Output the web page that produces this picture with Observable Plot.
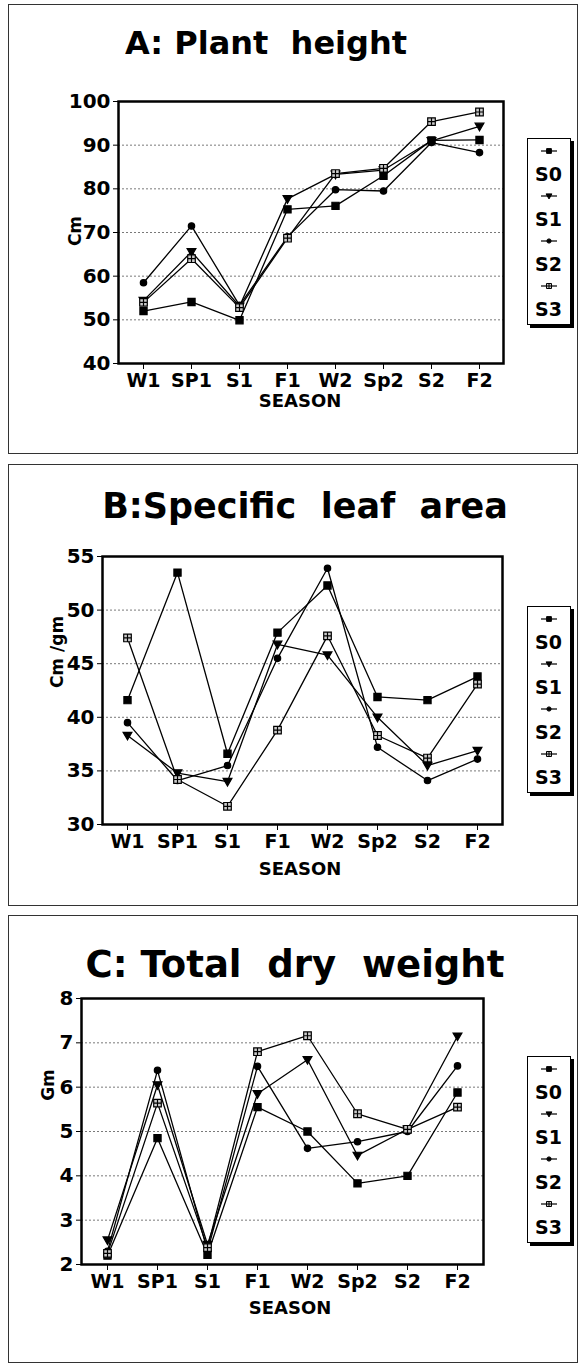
<!DOCTYPE html>
<html><head><meta charset="utf-8">
<script src="https://cdn.jsdelivr.net/npm/d3@7"></script>
<script src="https://cdn.jsdelivr.net/npm/@observablehq/plot@0.6"></script>
<style>
body{margin:0;background:#fff;}
#page{position:relative;width:580px;height:1366px;overflow:hidden;font-family:"DejaVu Sans",sans-serif;font-weight:bold;color:#000;}
.frame{position:absolute;border:1.5px solid #333;box-sizing:border-box;}
.txt{position:absolute;white-space:pre;transform:translate(-50%,-50%);line-height:1;}
.ylab{font-size:17px;}
.xlab{font-size:18px;}
.legend{position:absolute;border:1.5px solid #000;box-shadow:3px 3px 0 #000;background:#fff;box-sizing:border-box;}
.plot{position:absolute;left:0;}
</style></head>
<body><div id="page"></div>
<script>
const seasons = ["W1","SP1","S1","F1","W2","Sp2","S2","F2"];
const seriesNames = ["S0","S1","S2","S3"];

// A: Plant height (cm)
const heightS0 = [52.0, 54.1, 49.9, 75.3, 76.1, 83.0, 91.1, 91.2];
const heightS1 = [54.4, 65.6, 53.1, 77.7, 83.3, 84.3, 91.0, 94.3];
const heightS2 = [58.5, 71.5, 53.3, 69.0, 79.8, 79.5, 90.6, 88.3];
const heightS3 = [54.0, 64.0, 52.8, 68.7, 83.5, 84.7, 95.4, 97.6];
const heightTicks = [40, 50, 60, 70, 80, 90, 100];

// B: Specific leaf area (cm/gm)
const slaS0 = [41.6, 53.5, 36.6, 47.9, 52.3, 41.9, 41.6, 43.8];
const slaS1 = [38.3, 34.8, 34.0, 46.8, 45.8, 40.0, 35.5, 36.9];
const slaS2 = [39.5, 34.1, 35.5, 45.5, 53.9, 37.2, 34.1, 36.1];
const slaS3 = [47.4, 34.2, 31.7, 38.8, 47.6, 38.3, 36.2, 43.1];
const slaTicks = [30, 35, 40, 45, 50, 55];

// C: Total dry weight (gm)
const dwS0 = [2.20, 4.85, 2.22, 5.55, 5.00, 3.83, 4.00, 5.88];
const dwS1 = [2.55, 6.05, 2.45, 5.85, 6.62, 4.46, 5.05, 7.15];
const dwS2 = [2.30, 6.38, 2.30, 6.47, 4.62, 4.77, 5.00, 6.48];
const dwS3 = [2.25, 5.64, 2.38, 6.80, 7.16, 5.40, 5.05, 5.55];
const dwTicks = [2, 3, 4, 5, 6, 7, 8];

const symSquare = {draw(ctx, size){const r=Math.sqrt(size/Math.PI)*0.9; ctx.rect(-r,-r,2*r,2*r);}};
const symTriDown = {draw(ctx, size){const r=Math.sqrt(size/Math.PI); ctx.moveTo(-r*1.1,-r*0.8); ctx.lineTo(r*1.1,-r*0.8); ctx.lineTo(0,r*1.1); ctx.closePath();}};
const symCircle = {draw(ctx, size){const r=Math.sqrt(size/Math.PI)*0.8; ctx.moveTo(r,0); ctx.arc(0,0,r,0,2*Math.PI);}};
const symCrossSq = {draw(ctx, size){const r=Math.sqrt(size/Math.PI)*0.95; ctx.moveTo(-r,-r); ctx.lineTo(r,-r); ctx.lineTo(r,r); ctx.lineTo(-r,r); ctx.closePath(); ctx.moveTo(-r,0); ctx.lineTo(r,0); ctx.moveTo(0,-r); ctx.lineTo(0,r);}};
const symbols = [symSquare, symTriDown, symCircle, symCrossSq];
const fills = ["#000", "#000", "#000", "#ccc"];

function rows(arrs){
  const out = [];
  arrs.forEach((a, i) => a.forEach((v, j) => out.push({season: seasons[j], series: seriesNames[i], value: v})));
  return out;
}

const panels = [
  {top:0, height:455, mt:101, mb:92, ml:118, mr:77, ticks:heightTicks, data:rows([heightS0,heightS1,heightS2,heightS3]),
   frame:[8,4,570,450], title:"A: Plant  height", titleSize:32, titleXY:[266,43], ylab:"Cm", ylabXY:[75,231], xlabXY:[300,401], legend:[527,138]},
  {top:460, height:445, mt:96, mb:81, ml:102, mr:78, ticks:slaTicks, data:rows([slaS0,slaS1,slaS2,slaS3]),
   frame:[8,464,570,442], title:"B:Specific  leaf  area", titleSize:35, titleXY:[305,506], ylab:"Cm /gm", ylabXY:[57,652], xlabXY:[300,869], legend:[527,606]},
  {top:910, height:456, mt:88, mb:102, ml:81, mr:97, ticks:dwTicks, data:rows([dwS0,dwS1,dwS2,dwS3]),
   frame:[8,915,570,448], title:"C: Total  dry  weight", titleSize:37, titleXY:[295,964], ylab:"Gm", ylabXY:[48,1085], xlabXY:[290,1308], legend:[527,1056]}
];

const page = document.getElementById("page");

function addText(cls, text, x, y, rot, size){
  const d = document.createElement("div");
  d.className = "txt " + cls;
  d.textContent = text;
  d.style.left = x + "px"; d.style.top = y + "px";
  if (size) d.style.fontSize = size + "px";
  if (rot) d.style.transform = "translate(-50%,-50%) rotate(-90deg)";
  page.appendChild(d);
}

panels.forEach(p => {
  const fr = document.createElement("div");
  fr.className = "frame";
  fr.style.left = p.frame[0]+"px"; fr.style.top = p.frame[1]+"px";
  fr.style.width = p.frame[2]+"px"; fr.style.height = p.frame[3]+"px";
  page.appendChild(fr);

  const yMin = p.ticks[0], yMax = p.ticks[p.ticks.length-1];
  const marks = [
    Plot.gridY(p.ticks.slice(1, -1), {stroke:"#444", strokeOpacity:0.9, strokeWidth:0.8, strokeDasharray:"2,2"}),
    Plot.axisY(p.ticks, {tickSize:5, tickPadding:3, label:null, fontSize:20, fontWeight:"bold"}),
    Plot.axisX({tickSize:6, tickPadding:4, label:null, fontSize:19, fontWeight:"bold"}),
    Plot.line(p.data, {x:"season", y:"value", z:"series", stroke:"#000", strokeWidth:1.3})
  ];
  seriesNames.forEach((s, i) => {
    marks.push(Plot.dot(p.data.filter(d => d.series === s), {x:"season", y:"value", symbol:symbols[i], r:4, fill:fills[i], stroke:"#000", strokeWidth:1.2}));
  });
  marks.push(Plot.frame({stroke:"#000", strokeWidth:2.5}));

  const svg = Plot.plot({
    width:580, height:p.height,
    marginTop:p.mt, marginBottom:p.mb, marginLeft:p.ml, marginRight:p.mr,
    style:{fontFamily:"DejaVu Sans, sans-serif", fontWeight:"bold", color:"#000", background:"transparent", overflow:"visible"},
    x:{type:"point", domain:seasons, padding:0.5},
    y:{domain:[yMin, yMax]},
    marks
  });
  const wrap = document.createElement("div");
  wrap.className = "plot";
  wrap.style.top = p.top + "px";
  wrap.appendChild(svg);
  page.appendChild(wrap);

  addText("title", p.title, p.titleXY[0], p.titleXY[1], false, p.titleSize);
  addText("ylab", p.ylab, p.ylabXY[0], p.ylabXY[1], true);
  addText("xlab", "SEASON", p.xlabXY[0], p.xlabXY[1]);

  // legend
  const lg = document.createElement("div");
  lg.className = "legend";
  lg.style.left = p.legend[0]+"px"; lg.style.top = p.legend[1]+"px";
  lg.style.width = "44px"; lg.style.height = "187px";
  page.appendChild(lg);
  seriesNames.forEach((s, i) => {
    const my = 12 + i*45;
    const ls = d3.create("svg").attr("width", 40).attr("height", 10)
      .style("position","absolute").style("left","1px").style("top",(my-5)+"px");
    ls.append("line").attr("x1",12).attr("x2",28).attr("y1",5).attr("y2",5).attr("stroke","#000").attr("stroke-width",1.2);
    ls.append("path").attr("transform","translate(20,5)").attr("d", d3.symbol(symbols[i], Math.PI*7)())
      .attr("fill", fills[i]).attr("stroke","#000").attr("stroke-width",1);
    lg.appendChild(ls.node());
    const t = document.createElement("div");
    t.textContent = s;
    t.style.position = "absolute"; t.style.left = "0"; t.style.width = "41px"; t.style.textAlign = "center";
    t.style.top = (my + 14) + "px"; t.style.fontSize = "19px"; t.style.lineHeight = "1";
    lg.appendChild(t);
  });
});
</script></body></html>
